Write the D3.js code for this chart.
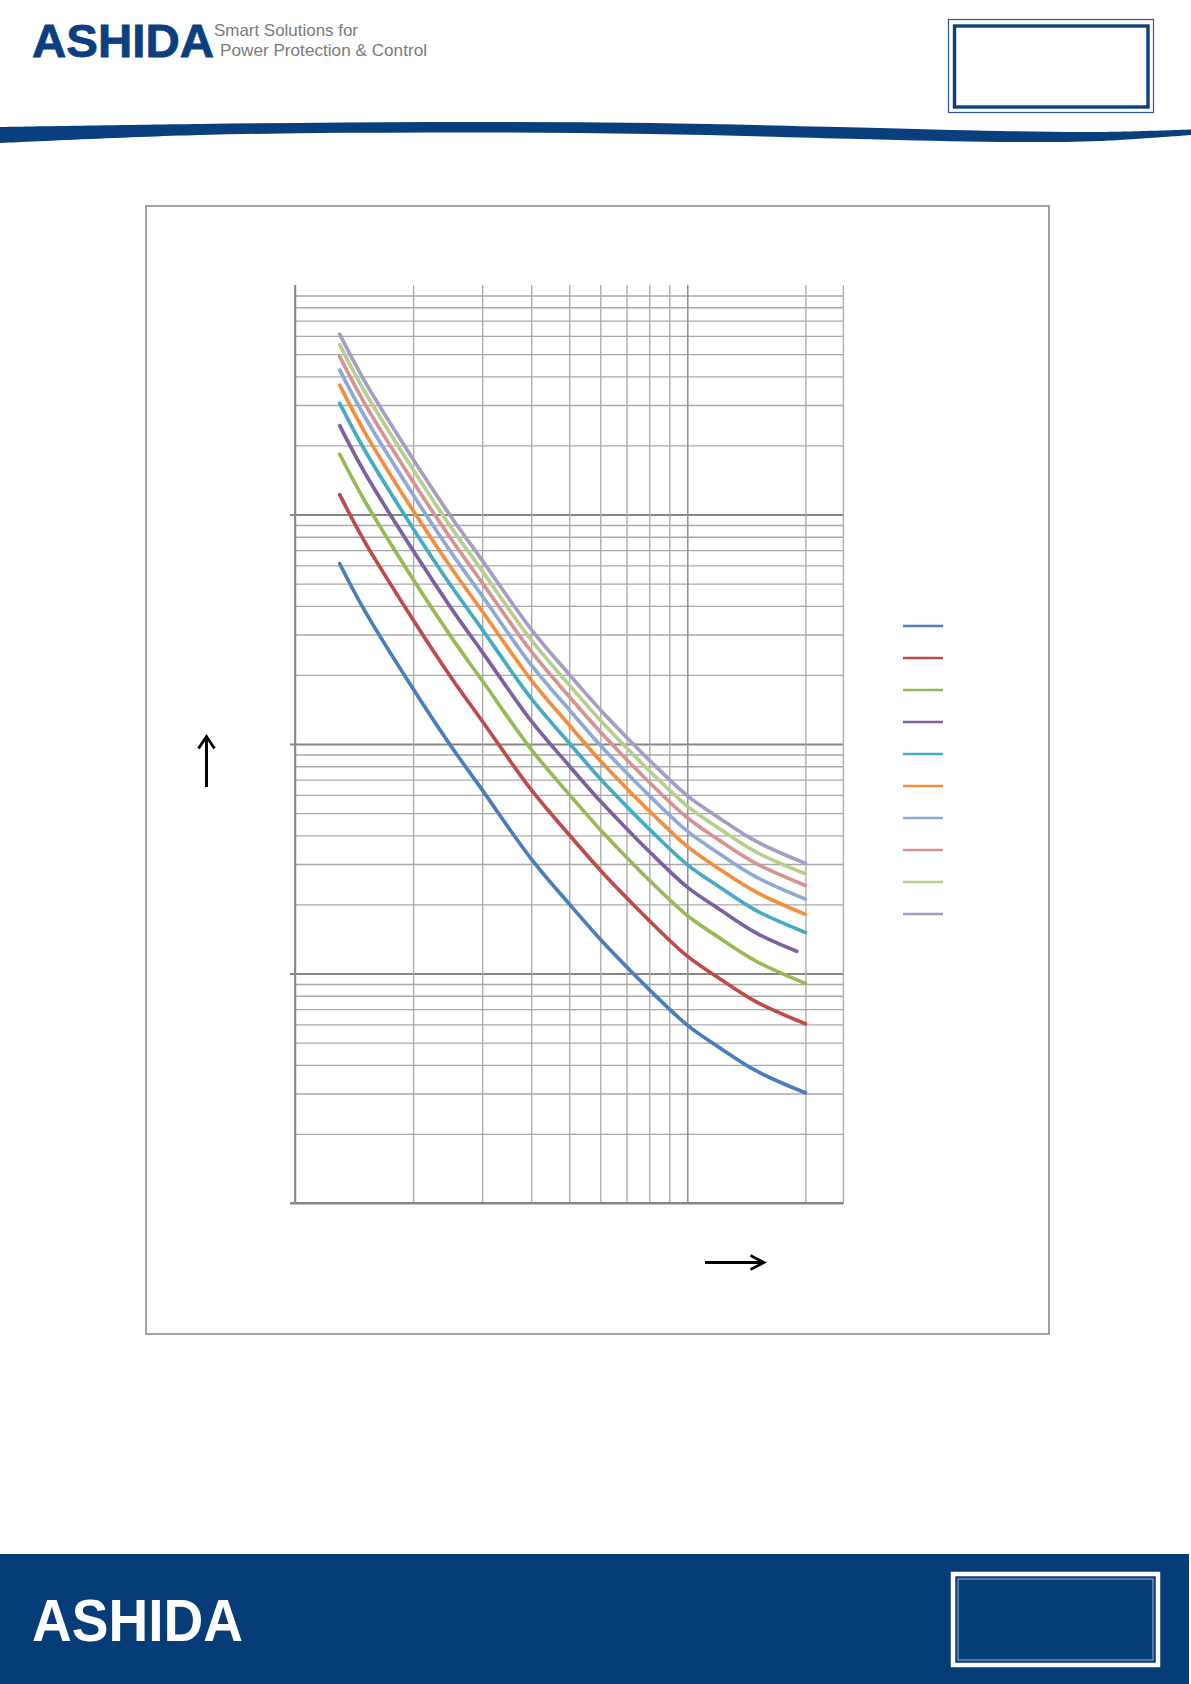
<!DOCTYPE html>
<html>
<head>
<meta charset="utf-8">
<script src="https://cdn.jsdelivr.net/npm/d3@7"></script>
<style>
  html, body { margin: 0; padding: 0; background: #ffffff; }
  svg { display: block; }
</style>
</head>
<body>
<svg id="page" width="1191" height="1684"></svg>
<script>
// Inverse-time operating curves: operating time (s) against multiple of plug setting.
const psm       = [1.3, 1.5, 2, 2.5, 3, 4, 5, 6, 7, 8, 10, 12, 15, 20];
const psmCurve4 = [1.3, 1.5, 2, 2.5, 3, 4, 5, 6, 7, 8, 10, 12, 15, 19];

const curve1  = [6.10, 3.85, 1.74, 0.977, 0.631, 0.316, 0.201, 0.141, 0.107, 0.0851, 0.0596, 0.0479, 0.0376, 0.0302];
const curve2  = [12.2, 7.70, 3.48, 1.95, 1.26, 0.632, 0.402, 0.282, 0.214, 0.170, 0.119, 0.0958, 0.0752, 0.0604];
const curve3  = [18.3, 11.6, 5.22, 2.93, 1.89, 0.948, 0.603, 0.423, 0.321, 0.255, 0.179, 0.144, 0.113, 0.0906];
const curve4  = [24.4, 15.4, 6.96, 3.91, 2.52, 1.26, 0.804, 0.564, 0.428, 0.340, 0.238, 0.192, 0.150, 0.125];
const curve5  = [30.5, 19.3, 8.70, 4.89, 3.16, 1.58, 1.01, 0.705, 0.535, 0.426, 0.298, 0.240, 0.188, 0.151];
const curve6  = [36.6, 23.1, 10.4, 5.86, 3.79, 1.90, 1.21, 0.846, 0.642, 0.511, 0.358, 0.287, 0.226, 0.181];
const curve7  = [42.7, 27.0, 12.2, 6.84, 4.42, 2.21, 1.41, 0.987, 0.749, 0.596, 0.417, 0.335, 0.263, 0.211];
const curve8  = [48.8, 30.8, 13.9, 7.82, 5.05, 2.53, 1.61, 1.13, 0.856, 0.681, 0.477, 0.383, 0.301, 0.242];
const curve9  = [54.9, 34.7, 15.7, 8.79, 5.68, 2.84, 1.81, 1.27, 0.963, 0.766, 0.536, 0.431, 0.338, 0.272];
const curve10 = [61.0, 38.5, 17.4, 9.77, 6.31, 3.16, 2.01, 1.41, 1.07, 0.851, 0.596, 0.479, 0.376, 0.302];

const curveColors = ["#4a7ebb", "#be4b48", "#98b954", "#7d60a0", "#46aac5", "#f38e3d",
                     "#8fa9d6", "#d69391", "#b6cf8d", "#a59dc4"];

// Grid positions on the two logarithmic axes
const xGridValues = [1, 2, 3, 4, 5, 6, 7, 8, 9, 10, 20];
const yDecades    = [0.01, 0.1, 1, 10];
const yMultipliers = [1, 2, 3, 4, 5, 6, 7, 8, 9];

const series = [
  { x: psm, y: curve1 }, { x: psm, y: curve2 }, { x: psm, y: curve3 },
  { x: psmCurve4, y: curve4 }, { x: psm, y: curve5 }, { x: psm, y: curve6 },
  { x: psm, y: curve7 }, { x: psm, y: curve8 }, { x: psm, y: curve9 },
  { x: psm, y: curve10 }
].map((s, i) => ({ color: curveColors[i], points: s.x.map((v, j) => [v, s.y[j]]) }));

const svg = d3.select("#page");
const navy = "#063c77";

// ---------- page header ----------
const header = svg.append("g");
header.append("text")
  .attr("x", 32).attr("y", 57)
  .attr("font-family", "Liberation Sans, Arial, sans-serif")
  .attr("font-weight", "bold").attr("font-size", 47)
  .attr("textLength", 182).attr("lengthAdjust", "spacingAndGlyphs")
  .attr("stroke", "#0b3f7f").attr("stroke-width", 0.8)
  .attr("fill", "#0b3f7f").text("ASHIDA");
header.append("text")
  .attr("x", 214).attr("y", 36)
  .attr("font-family", "Liberation Sans, Arial, sans-serif")
  .attr("font-size", 16.5).attr("fill", "#7a7a7a")
  .attr("textLength", 144).attr("lengthAdjust", "spacingAndGlyphs")
  .text("Smart Solutions for");
header.append("text")
  .attr("x", 220).attr("y", 56)
  .attr("font-family", "Liberation Sans, Arial, sans-serif")
  .attr("font-size", 16.5).attr("fill", "#7a7a7a")
  .attr("textLength", 207).attr("lengthAdjust", "spacingAndGlyphs")
  .text("Power Protection & Control");

// double-ruled box at the top right
header.append("rect").attr("x", 948.5).attr("y", 19.5).attr("width", 205).attr("height", 93)
  .attr("fill", "none").attr("stroke", "#2a5692").attr("stroke-width", 1.2);
header.append("rect").attr("x", 954.5).attr("y", 26).attr("width", 193.5).attr("height", 81)
  .attr("fill", "none").attr("stroke", "#0b3f7f").attr("stroke-width", 3.4);

// swoosh band under the header
const bandTop = [[0, 127], [200, 124], [430, 122], [650, 123], [860, 127.5], [1000, 131], [1100, 132], [1191, 129.5]];
const bandBottom = [[1191, 135], [1100, 141], [1000, 142], [860, 139], [650, 134], [430, 132.5], [200, 135], [0, 143]];
const band = d3.line().curve(d3.curveCatmullRom);
header.append("path")
  .attr("d", band(bandTop) + "L" + band(bandBottom).slice(1) + "Z")
  .attr("fill", "#0a3f7e");

// ---------- chart frame ----------
svg.append("rect").attr("x", 146).attr("y", 206).attr("width", 903).attr("height", 1128)
  .attr("fill", "#ffffff").attr("stroke", "#8a8a8a").attr("stroke-width", 1.6);

// ---------- plot ----------
const x = d3.scaleLog().domain([1, 25]).range([295, 843.4]);
const y = d3.scaleLog().domain([0.01, 100]).range([1203, 285]);
const plotW = x.range()[1] - x.range()[0];
const plotH = y.range()[0] - y.range()[1];
const isMajor = d => Math.abs(Math.log10(d) - Math.round(Math.log10(d))) < 1e-9;

const yGridValues = yDecades.flatMap(d => yMultipliers.map(k => +(k * d).toPrecision(3)));

const plot = svg.append("g");

// horizontal grid
plot.append("g")
  .attr("transform", `translate(${x.range()[0]},0)`)
  .call(d3.axisLeft(y).tickValues(yGridValues).tickFormat("").tickSizeInner(-plotW).tickSizeOuter(0))
  .call(g => g.select(".domain").remove())
  .call(g => g.selectAll(".tick line")
    .attr("stroke", d => isMajor(d) ? "#868686" : "#a9a9a9")
    .attr("stroke-width", d => isMajor(d) ? 1.9 : 1.3)
    .attr("x1", d => isMajor(d) ? -5 : 0));

// vertical grid
plot.append("g")
  .attr("transform", `translate(0,${y.range()[0]})`)
  .call(d3.axisBottom(x).tickValues(xGridValues).tickFormat("").tickSizeInner(-plotH).tickSizeOuter(0))
  .call(g => g.select(".domain").remove())
  .call(g => g.selectAll(".tick line")
    .attr("stroke", d => isMajor(d) ? "#8e8e8e" : "#a9a9a9")
    .attr("stroke-width", d => isMajor(d) ? 1.5 : 1.3));

// right edge of the plot area
plot.append("line")
  .attr("x1", x.range()[1]).attr("x2", x.range()[1])
  .attr("y1", y.range()[1]).attr("y2", y.range()[0])
  .attr("stroke", "#a9a9a9").attr("stroke-width", 1.3);

// axis lines
plot.append("line")
  .attr("x1", x.range()[0]).attr("x2", x.range()[0])
  .attr("y1", y.range()[1]).attr("y2", y.range()[0])
  .attr("stroke", "#868686").attr("stroke-width", 1.7);
plot.append("line")
  .attr("x1", x.range()[0] - 5).attr("x2", x.range()[1])
  .attr("y1", y.range()[0]).attr("y2", y.range()[0])
  .attr("stroke", "#868686").attr("stroke-width", 2.2);

// curves
const line = d3.line().curve(d3.curveCatmullRom.alpha(0.5)).x(d => x(d[0])).y(d => y(d[1]));
plot.append("g").selectAll("path").data(series).join("path")
  .attr("d", d => line(d.points))
  .attr("fill", "none")
  .attr("stroke", d => d.color)
  .attr("stroke-width", 3.7)
  .attr("stroke-linecap", "round")
  .attr("stroke-linejoin", "round");

// legend swatches
const legend = svg.append("g").attr("transform", "translate(903,626)");
legend.selectAll("line").data(series).join("line")
  .attr("x1", 0).attr("x2", 40)
  .attr("y1", (d, i) => i * 32).attr("y2", (d, i) => i * 32)
  .attr("stroke", d => d.color).attr("stroke-width", 2.6);

// axis direction arrows
const arrows = svg.append("g").attr("fill", "none").attr("stroke", "#000")
  .attr("stroke-width", 3).attr("stroke-linecap", "butt");
arrows.append("path").attr("d", "M206.5,787 L206.5,737");
arrows.append("path").attr("d", "M198.5,748.5 L206.5,736.5 L214.5,748.5").attr("stroke-width", 2.8);
arrows.append("path").attr("d", "M705,1262.5 L762,1262.5");
arrows.append("path").attr("d", "M750.5,1255.5 L764,1262.5 L750.5,1269.5").attr("stroke-width", 2.8);

// ---------- footer ----------
svg.append("rect").attr("x", 0).attr("y", 1554).attr("width", 1189).attr("height", 130).attr("fill", navy);
svg.append("text")
  .attr("x", 32).attr("y", 1641)
  .attr("font-family", "Liberation Sans, Arial, sans-serif")
  .attr("font-weight", "bold").attr("font-size", 60)
  .attr("textLength", 211).attr("lengthAdjust", "spacingAndGlyphs")
  .attr("fill", "#ffffff").text("ASHIDA");
svg.append("rect").attr("x", 953).attr("y", 1574).attr("width", 205).attr("height", 91)
  .attr("fill", "none").attr("stroke", "#ffffff").attr("stroke-width", 4.5);
svg.append("rect").attr("x", 958).attr("y", 1579).attr("width", 195).attr("height", 81)
  .attr("fill", "none").attr("stroke", "#c9d3e2").attr("stroke-width", 0.8);
</script>
</body>
</html>
